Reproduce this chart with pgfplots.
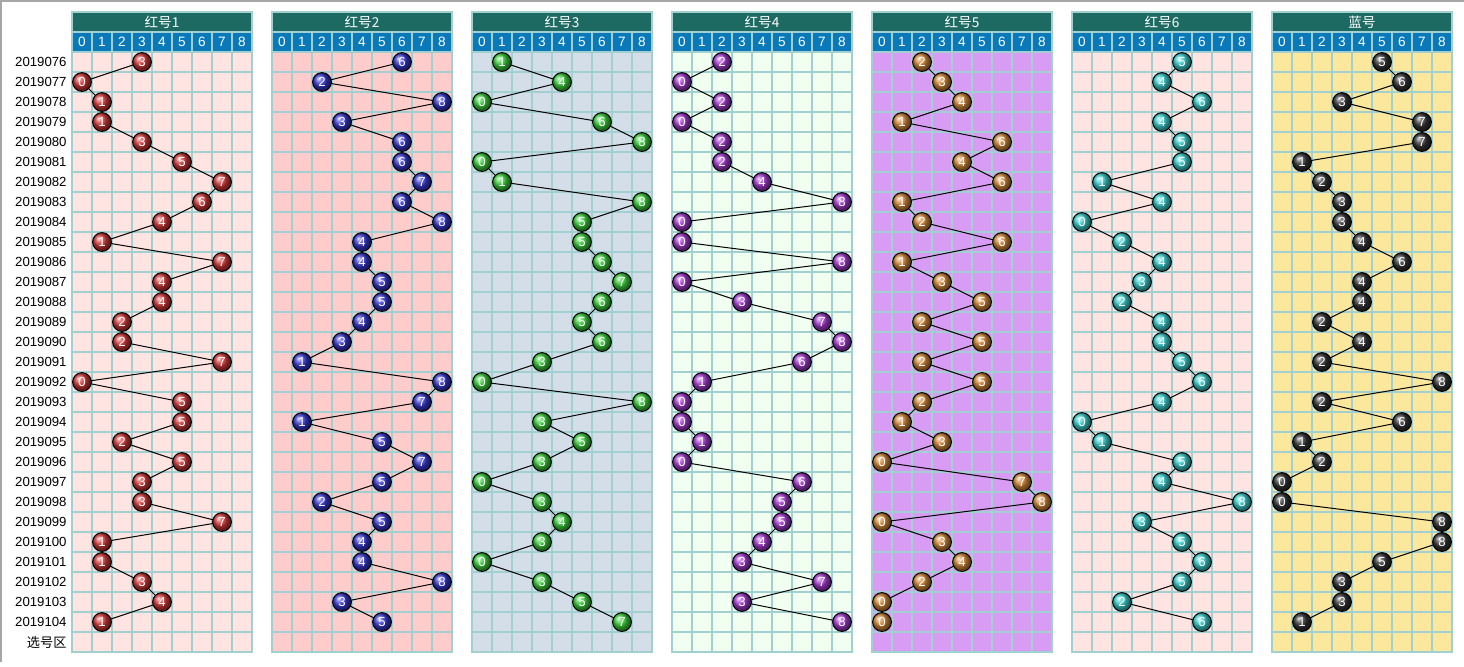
\documentclass[border=0pt]{standalone}
\usepackage{pgfplots}
\usepackage{pgfplotstable}
\pgfplotsset{compat=1.18}
\usepackage{fontspec}
\setmainfont{Liberation Sans}
\newfontfamily\cjk{Noto Sans CJK SC}

\definecolor{gridc}{HTML}{A2CFCF}
\definecolor{titlec}{HTML}{1D6A62}
\definecolor{digitc}{HTML}{0A79BA}
\definecolor{bgA}{HTML}{FFE4E1}
\definecolor{bgB}{HTML}{FFCCCC}
\definecolor{bgC}{HTML}{D3DEE8}
\definecolor{bgD}{HTML}{F0FFF0}
\definecolor{bgE}{HTML}{D99CF4}
\definecolor{bgF}{HTML}{FFE4E1}
\definecolor{bgG}{HTML}{FBE89C}
\definecolor{ballA}{HTML}{D03434}
\definecolor{ballB}{HTML}{3434D0}
\definecolor{ballC}{HTML}{36CC36}
\definecolor{ballD}{HTML}{A236D0}
\definecolor{ballE}{HTML}{D08434}
\definecolor{ballF}{HTML}{36CCCC}
\definecolor{ballG}{HTML}{333333}

\pgfplotstableread{
row r1 r2 r3 r4 r5 r6 r7
0  3 6 1 2 2 5 5
1  0 2 4 0 3 4 6
2  1 8 0 2 4 6 3
3  1 3 6 0 1 4 7
4  3 6 8 2 6 5 7
5  5 6 0 2 4 5 1
6  7 7 1 4 6 1 2
7  6 6 8 8 1 4 3
8  4 8 5 0 2 0 3
9  1 4 5 0 6 2 4
10 7 4 6 8 1 4 6
11 4 5 7 0 3 3 4
12 4 5 6 3 5 2 4
13 2 4 5 7 2 4 2
14 2 3 6 8 5 4 4
15 7 1 3 6 2 5 2
16 0 8 0 1 5 6 8
17 5 7 8 0 2 4 2
18 5 1 3 0 1 0 6
19 2 5 5 1 3 1 1
20 5 7 3 0 0 5 2
21 3 5 0 6 7 4 0
22 3 2 3 5 8 8 0
23 7 5 4 5 0 3 8
24 1 4 3 4 3 5 8
25 1 4 0 3 4 6 5
26 3 8 3 7 2 5 3
27 4 3 5 3 0 2 3
28 1 5 7 8 0 6 1
}\draws

\pgfplotsset{
  panel/.style={
    scale only axis, width=90pt, height=320pt,
    xmin=-0.5, xmax=8.5, ymin=-2.5, ymax=29.5, y dir=reverse,
    anchor=north west,
    xtick={0,...,8}, ytick={0,...,29},
    xticklabel={\relax}, yticklabel={\relax},
    minor xtick={-0.5,0.5,...,8.5},
    minor ytick={-0.5,0.5,...,29.5},
    grid=minor,
    minor grid style={draw=gridc, line width=1.1pt},
    axis line style={draw=gridc, line width=1.1pt},
    major tick length=0pt, minor tick length=0pt,
    axis background/.style={fill=#1},
    /pgf/number format/assume math mode=true,
    clip=false,
  },
}

\newcommand\panel[6]{%
\begin{axis}[panel=#2, at={(#1pt,-6pt)}, #6]
  \addplot[black, line width=0.5pt, mark=ball, mark size=4.7pt,
    mark options={ball color=#3},
    nodes near coords, point meta=x,
    every node near coord/.append style={anchor=center, text=white,
      font=\fontsize{6.6}{7}\selectfont}]
    table[x=#4, y=row] {\draws};
  \node[fill=titlec, draw=gridc, line width=1.1pt, minimum width=90pt,
    minimum height=10pt, inner sep=0pt, text=white,
    font=\cjk\fontsize{6.8}{7}\selectfont] at (axis cs:4,-2) {#5};
  \pgfplotsinvokeforeach{0,...,8}{%
    \node[fill=digitc, draw=gridc, line width=1.1pt, minimum width=10pt,
      minimum height=10pt, inner sep=0pt, text=white,
      font=\fontsize{6.8}{7}\selectfont] at (axis cs:##1,-1) {##1};}
\end{axis}}

\begin{document}
\begin{tikzpicture}
\path[use as bounding box] (0pt,0pt) rectangle (732pt,-333pt);
\draw[gray!70, line width=0.8pt] (0.5pt,-331pt) -- (0.5pt,-0.5pt) -- (732pt,-0.5pt);
\panel{36}{bgA}{ballA}{r1}{红号1}{
  yticklabels={2019076,2019077,2019078,2019079,2019080,2019081,2019082,2019083,2019084,2019085,2019086,2019087,2019088,2019089,2019090,2019091,2019092,2019093,2019094,2019095,2019096,2019097,2019098,2019099,2019100,2019101,2019102,2019103,2019104,{\cjk 选号区}},
  yticklabel style={font=\fontsize{6.6}{7}\selectfont, inner sep=1pt, xshift=-1.5pt}}
\panel{136}{bgB}{ballB}{r2}{红号2}{}
\panel{236}{bgC}{ballC}{r3}{红号3}{}
\panel{336}{bgD}{ballD}{r4}{红号4}{}
\panel{436}{bgE}{ballE}{r5}{红号5}{}
\panel{536}{bgF}{ballF}{r6}{红号6}{}
\panel{636}{bgG}{ballG}{r7}{蓝号}{}
\end{tikzpicture}
\end{document}
